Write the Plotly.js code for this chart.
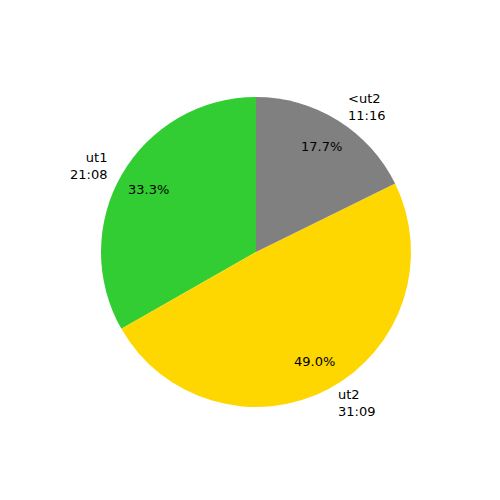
<!DOCTYPE html>
<html>
<head>
<meta charset="utf-8">
<script src="https://cdn.plot.ly/plotly-3.0.1.min.js"></script>
<style>html,body{margin:0;padding:0;background:#fff}#chart{width:500px;height:500px}</style>
</head>
<body>
<div id="chart"></div>
<script>
var labels = ["ut1", "ut2", "<ut2"];
var durations = ["21:08", "31:09", "11:16"];
var seconds = [1268, 1869, 676];
var colors = ["#32CD32", "#FFD700", "#808080"];

// pie geometry in paper units (margin 0, 500x500)
var cx = 256 / 500, cy = 1 - 252 / 500, R = 155 / 500;
var labelDist = 1.1, pctDist = 0.8;

var total = seconds.reduce(function (a, b) { return a + b; }, 0);
var annotations = [];
var start = 90;
for (var i = 0; i < seconds.length; i++) {
  var frac = seconds[i] / total;
  var sweep = frac * 360;
  var mid = (start + sweep / 2) * Math.PI / 180;
  var c = Math.cos(mid), s = Math.sin(mid);
  var esc = labels[i].replace(/</g, "&lt;");
  annotations.push({
    xref: "paper", yref: "paper",
    x: cx + labelDist * R * c, y: cy + labelDist * R * s,
    text: esc + "<br>" + durations[i],
    showarrow: false,
    xanchor: c > 0 ? "left" : "right", yanchor: "middle",
    align: c > 0 ? "left" : "right",
    font: { family: "DejaVu Sans", size: 13, color: "#000" }
  });
  annotations.push({
    xref: "paper", yref: "paper",
    x: cx + pctDist * R * c, y: cy + pctDist * R * s,
    text: (frac * 100).toFixed(1) + "%",
    showarrow: false,
    xanchor: "center", yanchor: "middle",
    font: { family: "DejaVu Sans", size: 13, color: "#000" }
  });
  start += sweep;
}

// Plotly's counterclockwise pies end the first slice at `rotation`;
// shift so the first slice starts at 12 o'clock like the reference.
var firstSweep = seconds[0] / total * 360;

var trace = {
  type: "pie",
  labels: labels,
  values: seconds,
  sort: false,
  direction: "counterclockwise",
  rotation: -firstSweep,
  marker: { colors: colors, line: { width: 0 } },
  textinfo: "none",
  hoverinfo: "skip",
  showlegend: false,
  domain: { x: [cx - R, cx + R], y: [cy - R, cy + R] }
};

var layout = {
  width: 500, height: 500,
  margin: { l: 0, r: 0, t: 0, b: 0 },
  paper_bgcolor: "#fff",
  showlegend: false,
  annotations: annotations
};

Plotly.newPlot("chart", [trace], layout, { staticPlot: true, displayModeBar: false });
</script>
</body>
</html>
